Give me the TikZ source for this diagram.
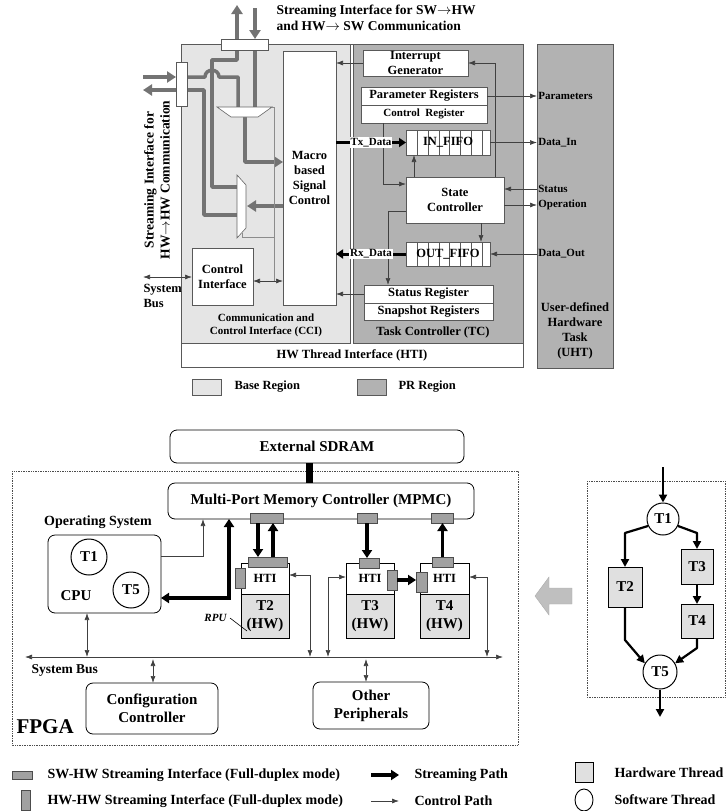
\documentclass[tikz,border=0pt]{standalone}
\usepackage{fontspec}
\setmainfont{Liberation Serif}
\usetikzlibrary{arrows.meta,calc}

\definecolor{baseGray}{gray}{0.90}
\definecolor{prGray}{gray}{0.70}
\definecolor{pipeGray}{gray}{0.45}
\definecolor{portGray}{gray}{0.63}
\definecolor{bodyGray}{gray}{0.88}

% block from corner (#3,#4) to corner (#5,#6), style #1, name #2, text #7
\newcommand*{\blockAt}[7]{
	\node[#1, minimum width={#5-#3}, minimum height={#6-#4}] (#2) at ({(#3+#5)/2},{(#4+#6)/2}) {#7};
}

\tikzset{
	f11/.style={font=\fontsize{11}{13}\selectfont\bfseries},
	f12/.style={font=\fontsize{12.5}{15}\selectfont\bfseries},
	f13/.style={font=\fontsize{13.5}{16}\selectfont\bfseries},
	f14/.style={font=\fontsize{14}{17}\selectfont\bfseries},
	f15/.style={font=\fontsize{15}{18}\selectfont\bfseries},
	blk/.style={draw=black!65, line width=0.6pt, inner sep=0pt, outer sep=0pt, align=center, f12},
	rblk/.style={blk, draw=black, line width=0.8pt, fill=white, rounded corners=7pt, f15},
	port/.style={draw=black!70, fill=portGray, line width=0.6pt, inner sep=0pt, outer sep=0pt},
	hwthr/.style={blk, draw=black, line width=1pt, fill=bodyGray, f15},
	swthr/.style={circle, draw=black, line width=1pt, fill=white, inner sep=0pt, f15},
	ctl/.style={draw=black!75, line width=0.7pt, -{Latex[length=7pt,width=5pt]}},
	ctlBoth/.style={ctl, {Latex[length=7pt,width=5pt]}-{Latex[length=7pt,width=5pt]}},
	sel/.style={draw=black!45, line width=0.6pt},
	pipe/.style={draw=pipeGray, line width=3.5pt, line join=round},
	pipeArr/.style={pipe, -{Triangle[length=9pt,width=11pt]}},
	dataArr/.style={line width=3pt, -{Triangle[length=7pt,width=9pt]}},
	stream/.style={line width=3.2pt, -{Triangle[length=8pt,width=10pt]}},
	streamBoth/.style={stream, {Triangle[length=8pt,width=10pt]}-{Triangle[length=8pt,width=10pt]}},
	flow/.style={line width=2.2pt, line join=round, -{Triangle[length=8pt,width=8pt]}}
}

\begin{document}
\begin{tikzpicture}[x=1pt,y=-1pt]
	\useasboundingbox (0,0) rectangle (727,811);
	
	%%%%% HW thread interface
	\blockAt{blk,fill=white}{hti}{181}{44}{523}{367}{}
	\node[f12] at (352,355) {HW Thread Interface (HTI)};
	\blockAt{blk,fill=baseGray}{cci}{181}{44}{350}{343}{}
	\blockAt{blk,fill=prGray}{tc}{353}{44}{523}{343}{}
	\blockAt{blk,fill=prGray}{uht}{537}{44}{613}{368}{}
	\node[f12,align=center] at (575,331) {User-defined\\Hardware\\Task\\(UHT)};
	\node[f11,align=center] at (266,325) {Communication and\\Control Interface (CCI)};
	\node[f12] at (433,332) {Task Controller (TC)};
	
	% boxes
	\blockAt{blk,fill=white}{macro}{283}{51}{336}{305}{Macro\\based\\Signal\\Control}
	\blockAt{blk,fill=white}{ctrlif}{192}{248}{253}{305}{Control\\Interface}
	\blockAt{blk,fill=white}{intgen}{363}{50}{468}{76}{Interrupt\\Generator}
	\blockAt{blk,fill=white}{paramreg}{361}{87}{487}{105}{Parameter Registers}
	\blockAt{blk,fill=white,f11}{ctrlreg}{361}{105}{487}{123}{Control\ \ Register}
	\blockAt{blk,fill=white}{infifo}{406}{130}{490}{155}{}
	\blockAt{blk,fill=white}{outfifo}{406}{242}{490}{266}{}
	\foreach \x in {417,428,439,449,460,471,482}
	{
		\draw[black!65, line width=0.6pt] (infifo.north -| \x,0) -- (infifo.south -| \x,0);
		\draw[black!65, line width=0.6pt] (outfifo.north -| \x,0) -- (outfifo.south -| \x,0);
	}
	\node[f12] at (infifo) {IN\_FIFO};
	\node[f12] at (outfifo) {OUT\_FIFO};
	\blockAt{blk,fill=white}{stc}{406}{177}{504}{223}{State\\Controller}
	\blockAt{blk,fill=white}{statreg}{364}{285}{493}{303}{Status Register}
	\blockAt{blk,fill=white}{snapreg}{364}{303}{493}{320}{Snapshot Registers}
	
	% streaming paths
	\coordinate (swOut) at (237,5);
	\coordinate (swIn) at (255,8);
	\coordinate (hwIn) at (143,77);
	\coordinate (hwOut) at (143,90);
	\draw[pipeArr] (237,45) -- (swOut);
	\draw[pipeArr] (swIn) -- (255,39);
	\draw[pipe] (255,45) -- (255,108);
	\draw[pipeArr] (hwIn) -- (176,77);
	\draw[pipeArr] (181,90) -- (hwOut);
	\draw[pipe] (181,77) -- (205,77) .. controls (205,68) and (219,68) .. (219,77) -- (238,77) -- (238,108);
	\draw[pipe] (237,45) -- (237,60) -- (212,60) -- (212,187) -- (238,187);
	\draw[pipe] (181,90) -- (204,90) -- (204,215) -- (238,215);
	\draw[pipeArr] (245,116) -- (245,162) -- (macro.west |- 0,162);
	\draw[pipeArr] (macro.west |- 0,206) -- (247,206);
	
	% interfaces and muxes
	\blockAt{blk,fill=white}{sti}{221}{39}{268}{50}{}
	\blockAt{blk,fill=white}{lsi}{176}{62}{187}{106}{}
	\draw[black!60, fill=white, line width=0.6pt] (217,107) -- (272,107) -- (258,117) -- (231,117) -- cycle;
	\draw[black!60, fill=white, line width=0.6pt] (237,175) -- (246,185) -- (246,228) -- (237,238) -- cycle;
	\draw[sel] (272,107) -| (274,281);
	\draw[sel] (242,233) |- (274,237);
	
	\node[f13,anchor=north west,align=left] at (273,1) {Streaming Interface for SW$\rightarrow$HW\\and HW$\rightarrow$ SW Communication};
	\node[f13,rotate=90,align=center] at (157,180) {Streaming Interface for\\HW$\rightarrow$HW Communication};
	
	% control paths
	\draw[ctlBoth] (ctrlif.east |- 0,281) -- (macro.west |- 0,281);
	\draw[ctlBoth] (143,277) -- (ctrlif.west |- 0,277);
	\node[f12,anchor=north west,align=left] at (140,281) {System\\Bus};
	\draw[ctl] (intgen.west) -- (macro.east |- intgen.west);
	\draw[ctl] (stc.north -| 495,0) |- (intgen.east);
	\draw[ctl] (paramreg.east) -- (uht.west |- paramreg.east) node[right,f11,inner sep=1pt] {Parameters};
	\draw[ctl] (ctrlreg.south -| 383,0) |- (stc.west |- 0,184);
	\draw[ctl] (stc.north -| 414,0) -- (infifo.south -| 414,0);
	\draw[ctl] (infifo.east) -- (uht.west |- infifo.east) node[right,f11,inner sep=1pt] {Data\_In};
	\draw[ctl] (uht.west |- 0,189) node[right,f11,inner sep=1pt] {Status} -- (stc.east |- 0,189);
	\draw[ctl] (stc.east |- 0,205) -- (uht.west |- 0,205) node[right,f11,inner sep=1pt] {Operation};
	\draw[ctl] (stc.south -| 481,0) -- (outfifo.north -| 481,0);
	\draw[ctl] (uht.west |- outfifo.east) node[right,f11,inner sep=1pt] {Data\_Out} -- (outfifo.east);
	\draw[ctl] (stc.west |- 0,211) -| (statreg.north -| 388,0);
	\draw[ctl] (statreg.west) -- (macro.east |- statreg.west);
	\draw[dataArr] (macro.east |- infifo.west) -- (infifo.west) node[midway,fill=white,inner sep=1pt,f11] {Tx\_Data};
	\draw[dataArr] (outfifo.west) -- (macro.east |- outfifo.west) node[midway,fill=white,inner sep=1pt,f11] {Rx\_Data};
	
	% legend (regions)
	\blockAt{blk,fill=baseGray}{baseKey}{192}{379}{221}{395}{}
	\node[f12,anchor=west] at (231,387) {Base Region};
	\blockAt{blk,fill=prGray}{prKey}{357}{379}{386}{395}{}
	\node[f12,anchor=west] at (395,387) {PR Region};
	
	%%%%% FPGA system
	\blockAt{rblk}{sdram}{170}{430}{464}{463}{External SDRAM}
	\draw[densely dotted, black!70, line width=0.7pt] (12,471) rectangle (518,745);
	\node[font=\fontsize{21}{24}\selectfont\bfseries,anchor=west] at (13,727) {FPGA};
	\blockAt{rblk}{mpmc}{168}{483}{474}{519}{Multi-Port Memory Controller (MPMC)}
	\draw[line width=7pt] (sdram.south -| 309,0) -- (mpmc.north -| 309,0);
	
	% operating system
	\node[f14] at (98,522) {Operating System};
	\blockAt{rblk}{os}{48}{535}{161}{613}{}
	\node[swthr,minimum size=36] (osT1) at (89,557) {T1};
	\node[swthr,minimum size=36] (osT5) at (131,590) {T5};
	\node[f15] at (76,596) {CPU};
	
	% reconfigurable units
	\blockAt{blk,fill=white,draw=black,line width=0.8pt}{htiB}{241}{563}{289}{594}{HTI}
	\blockAt{hwthr,line width=0.8pt}{rpuB}{241}{594}{289}{638}{T2\\(HW)}
	\blockAt{blk,fill=white,draw=black,line width=0.8pt}{htiC}{346}{563}{394}{594}{HTI}
	\blockAt{hwthr,line width=0.8pt}{rpuC}{346}{594}{394}{638}{T3\\(HW)}
	\blockAt{blk,fill=white,draw=black,line width=0.8pt}{htiD}{420}{563}{469}{594}{HTI}
	\blockAt{hwthr,line width=0.8pt}{rpuD}{420}{594}{469}{638}{T4\\(HW)}
	\node[font=\fontsize{11}{13}\selectfont\bfseries\itshape,anchor=east] (rpuLbl) at (230,618) {RPU};
	\draw[line width=0.6pt] (rpuLbl.east) -- (247,631);
	
	% ports
	\blockAt{port}{ptA}{250}{513}{283}{523}{}
	\blockAt{port}{ptB}{357}{513}{377}{523}{}
	\blockAt{port}{ptC}{431}{513}{453}{523}{}
	\blockAt{port}{tpB}{248}{557}{287}{567}{}
	\blockAt{port}{tpC}{359}{558}{379}{568}{}
	\blockAt{port}{tpD}{432}{557}{453}{567}{}
	\blockAt{port}{spB}{235}{568}{245}{588}{}
	\blockAt{port}{spC}{387}{570}{397}{590}{}
	\blockAt{port}{spD}{416}{572}{427}{592}{}
	
	% streaming paths
	\draw[stream] (ptA.south -| 258,0) -- (tpB.north -| 258,0);
	\draw[stream] (tpB.north -| 273,0) -- (ptA.south -| 273,0);
	\draw[stream] (ptB.south) -- (tpC.north -| ptB.south);
	\draw[stream] (tpD.north) -- (ptC.south -| tpD.north);
	\draw[stream] (spC.east) -- (spD.west |- spC.east);
	\draw[streamBoth] (mpmc.south -| 229,0) |- (os.east |- 0,598);
	\draw[ctl] (os.east |- 0,556) -| (mpmc.south -| 203,0);
	
	% system bus
	\coordinate (busL) at (25,657);
	\coordinate (busR) at (503,657);
	\draw[ctlBoth] (busL) -- (busR);
	\node[f13,anchor=west] at (28,670) {System Bus};
	\blockAt{rblk}{cfg}{86}{683}{218}{734}{Configuration\\Controller}
	\blockAt{rblk}{oth}{313}{682}{429}{729}{Other\\Peripherals}
	\draw[ctlBoth] (os.south -| 87,0) -- (busL -| 87,0);
	\draw[ctlBoth] ($(busL -| 153,0)+(0,2)$) -- (cfg.north -| 153,0);
	\draw[ctlBoth] ($(busL -| 366,0)+(0,2)$) -- (oth.north -| 366,0);
	\draw[ctlBoth] (htiB.east |- 0,575) -| (busL -| 310,0);
	\draw[ctlBoth] (htiC.west |- 0,577) -| (busL -| 328,0);
	\draw[ctlBoth] (htiD.east |- 0,577) -| (busL -| 487,0);
	
	% big arrow
	\draw[fill=gray!50, draw=gray!65] (535,596) -- (549,577) -- (549,588) -- (572,588) -- (572,604) -- (549,604) -- (549,615) -- cycle;
	
	%%%%% task graph
	\draw[densely dotted, black!70, line width=0.7pt] (587,481) rectangle (725,697);
	\node[swthr,minimum size=32] (g1) at (663,519) {T1};
	\blockAt{hwthr}{g2}{608}{567}{642}{607}{T2}
	\blockAt{hwthr}{g3}{681}{549}{713}{584}{T3}
	\blockAt{hwthr}{g4}{681}{604}{713}{638}{T4}
	\node[swthr,minimum size=34] (g5) at (660,672) {T5};
	\coordinate (dagIn) at (663,467);
	\coordinate (dagOut) at (660,717);
	\draw[flow] (dagIn) -- (g1.north);
	\draw[flow] (g1.205) -- (g2.north |- 0,533) -- (g2.north);
	\draw[flow] (g1.-25) -- (g3.north |- 0,533) -- (g3.north);
	\draw[flow] (g3.south) -- (g4.north);
	\draw[flow] (g2.south) -- (g2.south |- 0,640) -- (g5.150);
	\draw[flow] (g4.south) -- (g4.south |- 0,648) -- (g5.30);
	\draw[flow] (g5.south) -- (dagOut);
	
	%%%%% legend
	\blockAt{port}{keySW}{12}{771}{32}{779}{}
	\node[f14,anchor=west] at (44,775) {SW-HW Streaming Interface (Full-duplex mode)};
	\blockAt{port}{keyHW}{21}{790}{30}{810}{}
	\node[f14,anchor=west] at (44,801) {HW-HW Streaming Interface (Full-duplex mode)};
	\draw[stream] (371,775) -- (399,775);
	\node[f14,anchor=west] at (411,775) {Streaming Path};
	\draw[ctl] (371,801) -- (399,801);
	\node[f14,anchor=west] at (411,801) {Control Path};
	\blockAt{hwthr}{keyHT}{575}{762}{593}{782}{}
	\node[f14,anchor=west] at (611,773) {Hardware Thread};
	\draw[line width=0.9pt] (584,800) ellipse [x radius=9, y radius=11];
	\node[f14,anchor=west] at (611,800) {Software Thread};
	
\end{tikzpicture}
\end{document}
